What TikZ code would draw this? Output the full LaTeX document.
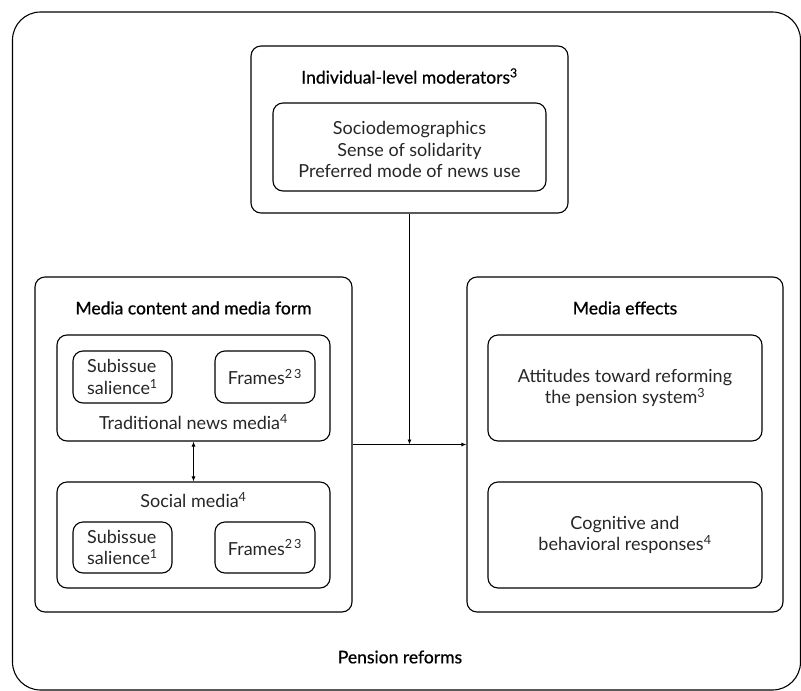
\documentclass[tikz,border=0pt]{standalone}
\usepackage{fontspec}
\setmainfont{Lato}
\newfontfamily\medfont[FakeBold=0.7]{Lato}
\usetikzlibrary{arrows.meta}
\begin{document}
\begin{tikzpicture}[x=1pt,y=-1pt,
  box/.style={draw, line width=1.1pt, rounded corners=10pt, inner sep=0pt},
  ttl/.style={font=\medfont\fontsize{17.5}{20}\selectfont, text=black},
  bod/.style={font=\fontsize{18}{21.5}\selectfont, text=black!85, align=center},
  con/.style={line width=0.8pt, -{Latex[length=5pt,width=4pt]}}]
\useasboundingbox (0,0) rectangle (801,691);
% outer
\node[box, rounded corners=28pt, minimum width=788pt, minimum height=678pt] (outer) at (406.5,351) {};
\node[ttl] (pens) at (400,657) {Pension reforms};
% top
\node[box, minimum width=317pt, minimum height=167pt] (top) at (409.5,129.5) {};
\node[ttl] (toptitle) at (409.5,76) {Individual-level moderators\textsuperscript{3}};
\node[box, minimum width=273pt, minimum height=88pt] (topin) at (409.5,147) {};
\node[bod] (toptxt) at (409.5,149.5) {Sociodemographics\\Sense of solidarity\\Preferred mode of news use};
% left
\node[box, minimum width=317pt, minimum height=335pt] (left) at (193.5,444.5) {};
\node[ttl] (lefttitle) at (193.5,308) {Media content and media form};
\node[box, minimum width=273pt, minimum height=106pt] (trad) at (193.5,388) {};
\node[box, minimum width=99pt, minimum height=52pt] (sub1) at (122.5,377) {};
\node[bod, align=left] at (sub1) {Subissue\\salience\textsuperscript{1}};
\node[box, minimum width=100pt, minimum height=52pt] (fr1) at (265,377) {};
\node[bod] at (fr1) {Frames\textsuperscript{2\,3}};
\node[bod] (tradlbl) at (193.5,422) {Traditional news media\textsuperscript{4}};
\node[box, minimum width=273pt, minimum height=106pt] (soc) at (193.5,535) {};
\node[bod] (soclbl) at (193.5,500) {Social media\textsuperscript{4}};
\node[box, minimum width=99pt, minimum height=51pt] (sub2) at (122.5,547.5) {};
\node[bod, align=left] at (sub2) {Subissue\\salience\textsuperscript{1}};
\node[box, minimum width=100pt, minimum height=51pt] (fr2) at (265,547.5) {};
\node[bod] at (fr2) {Frames\textsuperscript{2\,3}};
% right
\node[box, minimum width=316pt, minimum height=335pt] (right) at (625,444.5) {};
\node[ttl] (righttitle) at (625,308) {Media effects};
\node[box, minimum width=274pt, minimum height=106pt] (att) at (625,388) {};
\node[bod] at (att) {Attitudes toward reforming\\the pension system\textsuperscript{3}};
\node[box, minimum width=274pt, minimum height=106pt] (cog) at (625,535) {};
\node[bod] at (cog) {Cognitive and\\behavioral responses\textsuperscript{4}};
% connectors
\draw[con] (left.east) -- (right.west);
\draw[con] (top.south) -- (top.south |- left.east);
\draw[line width=0.8pt, {Latex[length=5pt,width=4pt]}-{Latex[length=5pt,width=4pt]}] (trad.south) -- (soc.north);
\end{tikzpicture}
\end{document}
